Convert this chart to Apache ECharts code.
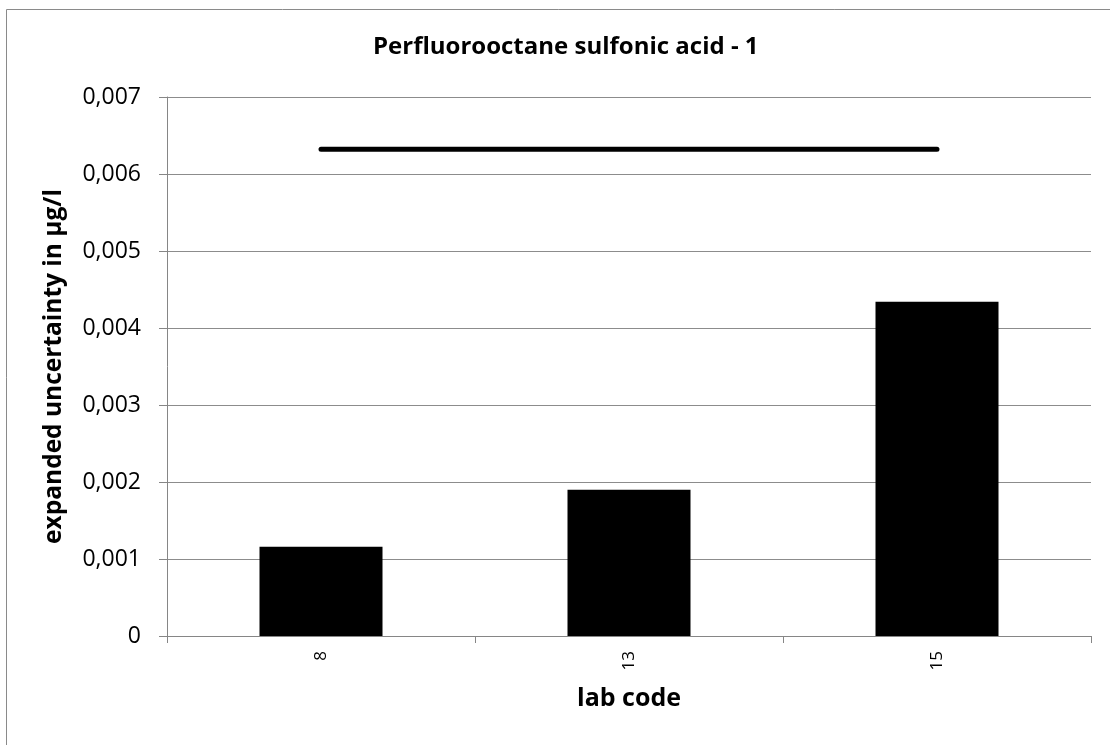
<!DOCTYPE html>
<html><head><meta charset="utf-8">
<script src="https://cdn.jsdelivr.net/npm/echarts@6/dist/echarts.min.js"></script>
<style>html,body{margin:0;padding:0;background:#fff}#c{width:1110px;height:745px}</style>
</head><body><div id="c"></div>
<script>
const categories = ['8', '13', '15'];
const uncertainty = [0.00116, 0.0019, 0.00434];
const referenceLine = [0.00632, 0.00632, 0.00632];
const yTicks = [0, 0.001, 0.002, 0.003, 0.004, 0.005, 0.006, 0.007];

const FONT = '"Open Sans", "Liberation Sans", sans-serif';
const chart = echarts.init(document.getElementById('c'), null, {renderer: 'canvas'});
chart.setOption({
  animation: false,
  backgroundColor: '#fff',
  graphic: [{
    type: 'rect', left: 4, top: 7, silent: true,
    shape: {width: 1200, height: 800},
    style: {fill: 'none', stroke: '#8a8a8a', lineWidth: 1}
  }],
  title: {
    text: 'Perfluorooctane sulfonic acid - 1',
    left: 368, top: 30,
    textStyle: {fontFamily: FONT, fontSize: 24, fontWeight: 'bold', color: '#000'}
  },
  grid: {left: 167, right: 19, top: 97, bottom: 109, containLabel: false},
  xAxis: {
    type: 'category', data: categories,
    boundaryGap: true,
    name: 'lab code', nameLocation: 'middle', nameGap: 50,
    nameTextStyle: {fontFamily: FONT, fontSize: 25, fontWeight: 'bold', color: '#000'},
    axisLine: {lineStyle: {color: '#868686', width: 1}},
    axisTick: {show: true, alignWithLabel: false, length: 7, lineStyle: {color: '#868686'}},
    axisLabel: {rotate: 90, fontFamily: FONT, fontSize: 17, color: '#000', margin: 15}
  },
  yAxis: {
    type: 'value', min: 0, max: 0.007, interval: 0.001,
    name: 'expanded uncertainty in µg/l', nameLocation: 'middle', nameGap: 100,
    nameTextStyle: {fontFamily: FONT, fontSize: 24.5, fontWeight: 'bold', color: '#000'},
    axisLine: {show: true, lineStyle: {color: '#868686', width: 1}},
    axisTick: {show: true, inside: false, length: 8, lineStyle: {color: '#868686'}},
    splitLine: {show: true, lineStyle: {color: '#8c8c8c', width: 1}},
    axisLabel: {
      fontFamily: FONT, fontSize: 23, color: '#000', margin: 26,
      formatter: v => {
        const t = yTicks.find(x => Math.abs(x - v) < 1e-9);
        return t === 0 ? '0' : (t !== undefined ? t.toFixed(3).replace('.', ',') : '');
      }
    }
  },
  series: [
    {type: 'bar', data: uncertainty, barWidth: 123, itemStyle: {color: '#000'}},
    {type: 'line', data: referenceLine, symbol: 'none', lineStyle: {color: '#000', width: 5, cap: 'round'}, z: 5}
  ]
});
</script></body></html>
